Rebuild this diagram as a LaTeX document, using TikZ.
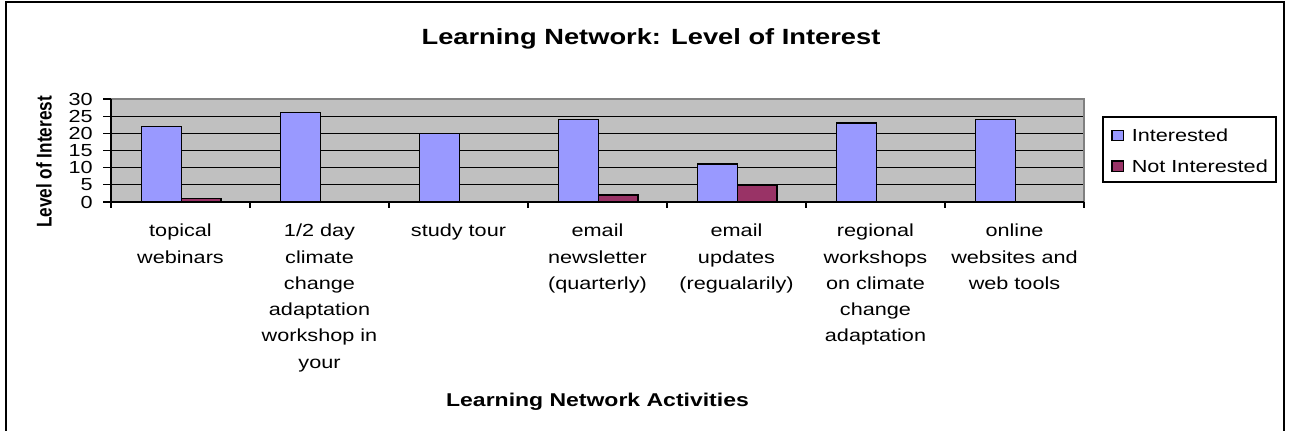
\documentclass[tikz,border=0pt]{standalone}
\usepackage{graphicx}
\usepackage{fontspec}
\setmainfont{Liberation Sans}[FakeStretch=1.24]
\newfontfamily\ylabfont{Liberation Sans}
\definecolor{barblue}{HTML}{9999FF}
\definecolor{barplum}{HTML}{993366}
\definecolor{plotgray}{HTML}{C0C0C0}
\definecolor{edgegray}{HTML}{808080}
\tikzset{
  catlabel/.style={anchor=north, align=center, inner sep=0pt, font=\fontsize{13.1}{19.7}\selectfont},
  ticklabel/.style={anchor=east, inner sep=0pt, font=\fontsize{13.1}{15}\selectfont},
  legendtext/.style={anchor=west, inner sep=0pt, font=\fontsize{13.1}{15}\selectfont},
  bar/.style={draw=black, line width=1.1pt},
}
\begin{document}
\begin{tikzpicture}[x=0.75pt, y=-0.75pt]
        \useasboundingbox (0,0) rectangle (1290,431);

        % chart frame, open at the bottom
        \draw[line width=1.6pt] (6,431) -- (6,2) -- (1284,2) -- (1284,431);

        \node[anchor=base, font=\bfseries\fontsize{16.5}{20}\selectfont] (title) at (651,45) {Learning Network: Level of Interest};

        % plot area and grid
        \fill[plotgray] (111,99) rectangle (1084,202);
        \foreach \v in {5,10,...,25}
            \draw[line width=0.8pt] (111,{202-\v*103/30}) -- (1084,{202-\v*103/30});
        \draw[edgegray, line width=1.5pt] (111,99) -- (1084,99) -- (1084,202);

        % bars: category / interested / not interested
        \foreach \k/\yes/\no in {0/22/1, 1/26/0, 2/20/0, 3/24/2, 4/11/5, 5/23/0, 6/24/0} {
            \filldraw[bar, fill=barblue] ({111+139*\k+30.7},202) rectangle ({111+139*\k+70.4},{202-\yes*103/30});
            \ifnum\no>0
                \filldraw[bar, fill=barplum] ({111+139*\k+70.4},202) rectangle ({111+139*\k+110.1},{202-\no*103/30});
            \fi
        }

        % axes and ticks
        \draw[line width=0.8pt] (111,99) -- (111,202) -- (1084,202);
        \foreach \v in {0,5,...,30} {
            \draw[line width=0.8pt] (103,{202-\v*103/30}) -- (111,{202-\v*103/30});
            \node[ticklabel] (tick\v) at (93,{202-\v*103/30}) {\v};
        }
        \foreach \k in {0,...,7}
            \draw[line width=0.8pt] ({111+139*\k},202) -- ({111+139*\k},208);

        \node[catlabel] (cat0) at (180.5,224) {topical\\webinars};
        \node[catlabel] (cat1) at (319.5,224) {1/2 day\\climate\\change\\adaptation\\workshop in\\your};
        \node[catlabel] (cat2) at (458.5,224) {study tour};
        \node[catlabel] (cat3) at (597.5,224) {email\\newsletter\\(quarterly)};
        \node[catlabel] (cat4) at (736.5,224) {email\\updates\\(regualarily)};
        \node[catlabel] (cat5) at (875.5,224) {regional\\workshops\\on climate\\change\\adaptation};
        \node[catlabel] (cat6) at (1014.5,224) {online\\websites and\\web tools};

        \node[anchor=base, font=\bfseries\fontsize{13.9}{16}\selectfont] (xtitle) at (597.5,406) {Learning Network Activities};
        \node[anchor=base, rotate=90, font=\ylabfont\bfseries\fontsize{12.9}{15}\selectfont] (ytitle) at (51.5,162) {\scalebox{1}[1.24]{Level of Interest}};

        % legend
        \draw[line width=0.8pt] (1103,117) rectangle (1276,182);
        \filldraw[bar, line width=0.8pt, fill=barblue] (1112,130.5) rectangle (1123.5,140.5);
        \node[legendtext] (legyes) at (1131.5,135.5) {Interested};
        \filldraw[bar, line width=0.8pt, fill=barplum] (1112,161) rectangle (1123.5,171.5);
        \node[legendtext] (legno) at (1131.5,166) {Not Interested};

        \end{tikzpicture}
\end{document}
